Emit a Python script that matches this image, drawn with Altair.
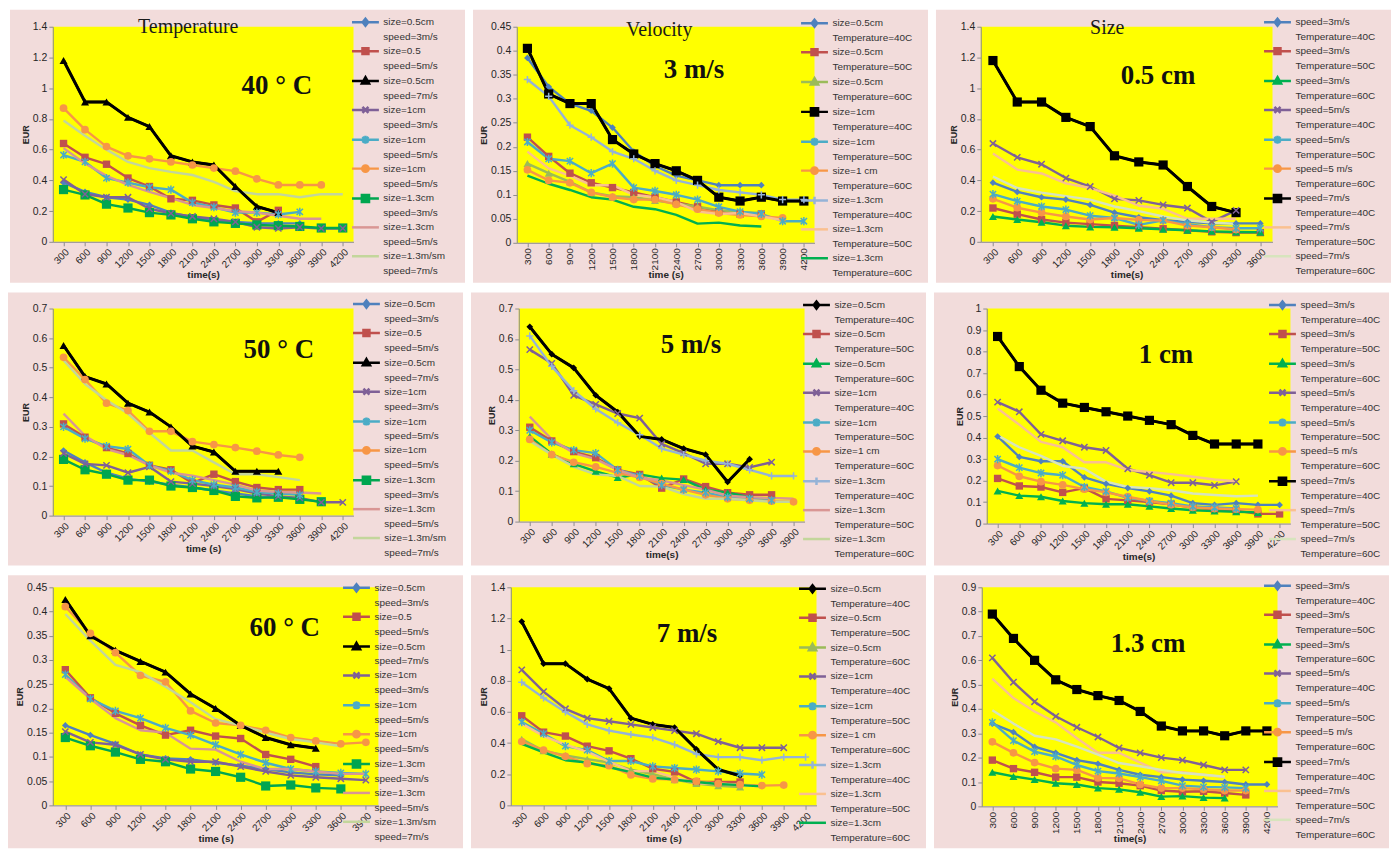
import altair as alt
import pandas as pd

TIMES = [300, 600, 900, 1200, 1500, 1800, 2100, 2400, 2700, 3000, 3300, 3600, 3900, 4200]

# EUR readings, named E_<size>_<speed m/s>_<temperature C>
E_05_3_40 = [0.385, 0.325, 0.29, 0.275, 0.24, 0.19, 0.16, 0.14, 0.13, 0.12, 0.12, 0.12]
E_05_3_50 = [0.22, 0.18, 0.145, 0.125, 0.115, 0.105, 0.095, 0.085, 0.075, 0.065, 0.06, 0.06]
E_05_3_60 = [0.165, 0.145, 0.127, 0.105, 0.097, 0.095, 0.088, 0.082, 0.075, 0.068, 0.064, 0.062]
E_1_3_40 = [0.405, 0.31, 0.29, 0.29, 0.215, 0.185, 0.165, 0.15, 0.13, 0.095, 0.087, 0.095, 0.087, 0.087]
E_1_3_50 = [0.21, 0.175, 0.17, 0.145, 0.165, 0.115, 0.108, 0.1, 0.09, 0.075, 0.065, 0.06, 0.045, 0.045]
E_1_3_60 = [0.152, 0.13, 0.125, 0.105, 0.095, 0.09, 0.09, 0.08, 0.07, 0.062, 0.058, 0.055, 0.052]
E_13_3_40 = [0.34, 0.305, 0.245, 0.22, 0.19, 0.175, 0.15, 0.13, 0.12, 0.11, 0.105, 0.1, 0.09, 0.09]
E_13_3_50 = [0.19, 0.155, 0.14, 0.12, 0.12, 0.1, 0.095, 0.085, 0.065, 0.06, 0.062, 0.055, 0.047]
E_13_3_60 = [0.14, 0.123, 0.11, 0.095, 0.09, 0.075, 0.07, 0.058, 0.04, 0.042, 0.036, 0.034]

E_05_5_40 = [0.64, 0.55, 0.505, 0.415, 0.36, 0.28, 0.27, 0.24, 0.22, 0.13, 0.205]
E_05_5_50 = [0.31, 0.265, 0.23, 0.21, 0.17, 0.155, 0.11, 0.14, 0.115, 0.095, 0.088, 0.088]
E_05_5_60 = [0.28, 0.222, 0.19, 0.165, 0.145, 0.155, 0.143, 0.138, 0.105, 0.095, 0.08]
E_1_5_40 = [0.565, 0.52, 0.415, 0.385, 0.355, 0.34, 0.255, 0.225, 0.19, 0.19, 0.178, 0.195]
E_1_5_50 = [0.30, 0.26, 0.235, 0.225, 0.17, 0.15, 0.12, 0.105, 0.095, 0.08, 0.075, 0.07]
E_1_5_60 = [0.27, 0.22, 0.195, 0.18, 0.16, 0.145, 0.125, 0.105, 0.088, 0.075, 0.07, 0.067, 0.065]
E_13_5_40 = [0.61, 0.51, 0.43, 0.37, 0.325, 0.285, 0.24, 0.22, 0.2, 0.19, 0.17, 0.15, 0.15]
E_13_5_50 = [0.345, 0.27, 0.225, 0.205, 0.17, 0.145, 0.135, 0.12, 0.105, 0.085, 0.08, 0.078, 0.075]
E_13_5_60 = [0.265, 0.22, 0.18, 0.155, 0.15, 0.117, 0.115, 0.09, 0.075, 0.075, 0.07, 0.065, 0.065]

E_05_7_40 = [1.18, 0.91, 0.91, 0.81, 0.75, 0.56, 0.52, 0.50, 0.36, 0.23, 0.19]
E_05_7_50 = [0.575, 0.47, 0.445, 0.38, 0.35, 0.30, 0.235, 0.215, 0.15, 0.15, 0.15]
E_05_7_60 = [0.425, 0.35, 0.32, 0.297, 0.275, 0.23, 0.20, 0.165, 0.14, 0.125, 0.118]
E_1_7_40 = [0.87, 0.73, 0.62, 0.56, 0.54, 0.52, 0.50, 0.48, 0.46, 0.41, 0.37, 0.37, 0.37]
E_1_7_50 = [0.535, 0.46, 0.38, 0.355, 0.285, 0.285, 0.25, 0.24, 0.23, 0.218, 0.205, 0.197]
E_1_7_60 = [0.41, 0.355, 0.315, 0.268, 0.255, 0.195, 0.17, 0.165, 0.155, 0.14, 0.133, 0.127, 0.13]
E_13_7_40 = [0.79, 0.69, 0.60, 0.52, 0.48, 0.455, 0.435, 0.39, 0.33, 0.31, 0.31, 0.29, 0.31, 0.31]
E_13_7_50 = [0.525, 0.445, 0.39, 0.345, 0.28, 0.22, 0.22, 0.18, 0.14, 0.14, 0.13, 0.12]
E_13_7_60 = [0.395, 0.34, 0.29, 0.275, 0.245, 0.213, 0.178, 0.165, 0.15, 0.137, 0.13, 0.122]

EUR = {
    ("0.5", 3, 40): E_05_3_40, ("0.5", 3, 50): E_05_3_50, ("0.5", 3, 60): E_05_3_60,
    ("1", 3, 40): E_1_3_40, ("1", 3, 50): E_1_3_50, ("1", 3, 60): E_1_3_60,
    ("1.3", 3, 40): E_13_3_40, ("1.3", 3, 50): E_13_3_50, ("1.3", 3, 60): E_13_3_60,
    ("0.5", 5, 40): E_05_5_40, ("0.5", 5, 50): E_05_5_50, ("0.5", 5, 60): E_05_5_60,
    ("1", 5, 40): E_1_5_40, ("1", 5, 50): E_1_5_50, ("1", 5, 60): E_1_5_60,
    ("1.3", 5, 40): E_13_5_40, ("1.3", 5, 50): E_13_5_50, ("1.3", 5, 60): E_13_5_60,
    ("0.5", 7, 40): E_05_7_40, ("0.5", 7, 50): E_05_7_50, ("0.5", 7, 60): E_05_7_60,
    ("1", 7, 40): E_1_7_40, ("1", 7, 50): E_1_7_50, ("1", 7, 60): E_1_7_60,
    ("1.3", 7, 40): E_13_7_40, ("1.3", 7, 50): E_13_7_50, ("1.3", 7, 60): E_13_7_60,
}
SIZES = ["0.5", "1", "1.3"]
SPEEDS = [3, 5, 7]
TEMPS = [40, 50, 60]

TEMP_LABELS = [("size=0.5cm", "speed=3m/s"), ("size=0.5", "speed=5m/s"), ("size=0.5cm", "speed=7m/s"),
               ("size=1cm", "speed=3m/s"), ("size=1cm", "speed=5m/s"), ("size=1cm", "speed=5m/s"),
               ("size=1.3cm", "speed=3m/s"), ("size=1.3cm", "speed=5m/s"), ("size=1.3m/sm", "speed=7m/s")]
VEL_LABELS = [("size=0.5cm", "Temperature=40C"), ("size=0.5cm", "Temperature=50C"), ("size=0.5cm", "Temperature=60C"),
              ("size=1cm", "Temperature=40C"), ("size=1cm", "Temperature=50C"), ("size=1 cm", "Temperature=60C"),
              ("size=1.3cm", "Temperature=40C"), ("size=1.3cm", "Temperature=50C"), ("size=1.3cm", "Temperature=60C")]
SIZE_LABELS = [("speed=3m/s", "Temperature=40C"), ("speed=3m/s", "Temperature=50C"), ("speed=3m/s", "Temperature=60C"),
               ("speed=5m/s", "Temperature=40C"), ("speed=5m/s", "Temperature=50C"), ("speed=5 m/s", "Temperature=60C"),
               ("speed=7m/s", "Temperature=40C"), ("speed=7m/s", "Temperature=50C"), ("speed=7m/s", "Temperature=60C")]

BLUE, RED, OLIVE, PURPLE, AQUA = "#4F81BD", "#C0504D", "#9BBB59", "#7F6097", "#4BACC6"
ORANGE, BLACK, GREEN, BGREEN = "#F79646", "#000000", "#00A650", "#00B050"
ROSE, LIME, SKY, TAN, PALE = "#D99694", "#C3D69B", "#95B3D7", "#FAC090", "#D7E4BD"

TEMP_COLORS = [BLUE, RED, BLACK, PURPLE, AQUA, ORANGE, GREEN, ROSE, LIME]
TEMP_MARKS = ["diamond", "square", "triangle", "x", "star", "circle", "bigsquare", None, None]
SIZE_COLORS = [BLUE, RED, BGREEN, PURPLE, AQUA, ORANGE, BLACK, TAN, PALE]
SIZE_MARKS = ["diamond", "square", "triangle", "x", "star", "circle", "bigsquare", None, None]
VEL_MARKS = ["diamond", "square", "triangle", "x", "star", "circle", "plus", None, None]


def tkeys(T):
    return [(s, v, T) for s in SIZES for v in SPEEDS]


def vkeys(V):
    return [(s, V, T) for s in SIZES for T in TEMPS]


def skeys(S):
    return [(S, v, T) for v in SPEEDS for T in TEMPS]


ROW_TOP = [17, 16, 12]   # pink top -> plot top, per row

PANELS = [
    dict(keys=tkeys(40), labels=TEMP_LABELS, colors=TEMP_COLORS, marks=TEMP_MARKS, ymax=1.4, ystep=0.2,
         xangle=-45, xtitle="time(s)", head="Temperature", head_xy=(136, 17), big="40 ° C", big_xy=(225, 77),
         left=43, W=302, H=216, ldx=-3, ly=11),
    dict(keys=vkeys(3), labels=VEL_LABELS, colors=[BLUE, RED, OLIVE, BLACK, AQUA, ORANGE, SKY, TAN, BGREEN],
         marks=["diamond", "square", "triangle", "bigsquare", "star", "circle", "plus", None, None],
         ymax=0.45, ystep=0.05, xangle=-90, xtitle="time (s)", head="Velocity", head_xy=(143, 20),
         big="3 m/s", big_xy=(178, 60), left=44, W=299, H=217, ldx=-15, ly=12),
    dict(keys=skeys("0.5"), labels=SIZE_LABELS, colors=SIZE_COLORS, marks=SIZE_MARKS, ymax=1.4, ystep=0.2,
         xangle=-45, xtitle="time(s)", head="Size", head_xy=(127, 18), big="0.5 cm", big_xy=(178, 67),
         left=45, W=293, H=216, ldx=-10, ly=11),
    dict(keys=tkeys(50), labels=TEMP_LABELS, colors=TEMP_COLORS, marks=TEMP_MARKS, ymax=0.7, ystep=0.1,
         xangle=-45, xtitle="time (s)", head=None, big="50 ° C", big_xy=(227, 58),
         left=45, W=302, H=208, ldx=-2, ly=10),
    dict(keys=vkeys(5), labels=VEL_LABELS, colors=[BLACK, RED, BGREEN, PURPLE, AQUA, ORANGE, SKY, ROSE, LIME],
         marks=VEL_MARKS, ymax=0.7, ystep=0.1, xangle=-45, xtitle="time(s)", head=None,
         big="5 m/s", big_xy=(173, 53), left=48, W=287, H=214, ldx=-3, ly=11),
    dict(keys=skeys("1"), labels=SIZE_LABELS, colors=SIZE_COLORS, marks=SIZE_MARKS, ymax=1.0, ystep=0.1,
         xangle=-45, xtitle="time(s)", head=None, big="1 cm", big_xy=(180, 63),
         left=53, W=305, H=216, ldx=-23, ly=11),
    dict(keys=tkeys(60), labels=TEMP_LABELS, colors=TEMP_COLORS, marks=TEMP_MARKS, ymax=0.45, ystep=0.05,
         xangle=-45, xtitle="time (s)", head=None, big="60 ° C", big_xy=(233, 53),
         left=45, W=327, H=219, ldx=-37, ly=11),
    dict(keys=vkeys(7), labels=VEL_LABELS, colors=[BLACK, RED, OLIVE, PURPLE, AQUA, ORANGE, SKY, TAN, BGREEN],
         marks=VEL_MARKS, ymax=1.4, ystep=0.2, xangle=-45, xtitle="time (s)", head=None,
         big="7 m/s", big_xy=(177, 59), left=40, W=307, H=219, ldx=-19, ly=12),
    dict(keys=skeys("1.3"), labels=SIZE_LABELS, colors=SIZE_COLORS, marks=SIZE_MARKS, ymax=0.9, ystep=0.1,
         xangle=-90, xtitle="time(s)", head=None, big="1.3 cm", big_xy=(167, 69),
         left=48, W=297, H=220, ldx=-15, ly=9),
]

PANEL_W, PANEL_H = 457, 274
PINK, YELLOW = "#F2DCDB", "#FFFF00"
SANS = "Liberation Sans"
SERIF = "Liberation Serif"

MARK_STYLE = {
    "diamond": dict(shape="diamond", size=45, filled=True),
    "square": dict(shape="square", size=55, filled=True),
    "bigsquare": dict(shape="square", size=85, filled=True),
    "triangle": dict(shape="triangle-up", size=65, filled=True),
    "circle": dict(shape="circle", size=60, filled=True),
    "x": dict(shape="M-1,-1L1,1M-1,1L1,-1", size=40, filled=False, strokeWidth=1.5),
    "star": dict(shape="M-1,-1L1,1M-1,1L1,-1M0,-1.3L0,1.3", size=40, filled=False, strokeWidth=1.5),
    "plus": dict(shape="M-1,0L1,0M0,-1L0,1", size=52, filled=False, strokeWidth=1.5),
}

SYM_SIZE = 196                      # legend symbol box 14 px
SYM_K = (SYM_SIZE ** 0.5) / 2.0     # px per path unit
LINE_HALF = 13.5                    # legend line half-length, px


def u(px):
    return f"{px / SYM_K:.3f}"


def legend_path(marker):
    p = f"M{u(-LINE_HALF)},0L{u(LINE_HALF)},0"
    if marker in ("square", "bigsquare"):
        s = 3.0 if marker == "square" else 3.6
        p += f"M{u(-s)},{u(-s)}L{u(s)},{u(-s)}L{u(s)},{u(s)}L{u(-s)},{u(s)}Z"
    elif marker == "diamond":
        p += f"M0,{u(-3.6)}L{u(2.8)},0L0,{u(3.6)}L{u(-2.8)},0Z"
    elif marker == "triangle":
        p += f"M0,{u(-3.8)}L{u(3.6)},{u(2.6)}L{u(-3.6)},{u(2.6)}Z"
    elif marker == "circle":
        r = u(3.2)
        p += f"M-{r},0A{r},{r},0,1,0,{r},0A{r},{r},0,1,0,-{r},0Z"
    elif marker == "x":
        p += f"M{u(-3)},{u(-3)}L{u(3)},{u(3)}M{u(-3)},{u(3)}L{u(3)},{u(-3)}"
    elif marker == "star":
        p += f"M{u(-3)},{u(-3)}L{u(3)},{u(3)}M{u(-3)},{u(3)}L{u(3)},{u(-3)}M0,{u(-4)}L0,{u(4)}"
    elif marker == "plus":
        p += f"M{u(-3.8)},0L{u(3.8)},0M0,{u(-3.8)}L0,{u(3.8)}"
    return p


def build_panel(p, top):
    ids = [f"{i + 1}|{a}|{b}" for i, (a, b) in enumerate(p["labels"])]
    rows = []
    for sid, key in zip(ids, p["keys"]):
        for t, v in zip(TIMES, EUR[key]):
            rows.append({"time": t, "EUR": v, "series": sid})
    df = pd.DataFrame(rows)
    ntimes = max(len(EUR[k]) for k in p["keys"])
    xdom = TIMES[:ntimes]
    W, H, left = p["W"], p["H"], p["left"]
    right = PANEL_W - left - W
    bottom = PANEL_H - top - H
    nstep = int(round(p["ymax"] / p["ystep"]))
    yvals = [round(i * p["ystep"], 2) for i in range(nstep + 1)]

    x = alt.X("time:O", scale=alt.Scale(domain=xdom),
              axis=alt.Axis(title=p["xtitle"], labelAngle=p["xangle"], zindex=1))
    y = alt.Y("EUR:Q", scale=alt.Scale(domain=[0, p["ymax"]], nice=False),
              axis=alt.Axis(title="EUR", values=yvals, format="~g", zindex=1))
    cscale = alt.Scale(domain=ids, range=p["colors"])
    shscale = alt.Scale(domain=ids, range=[legend_path(m) for m in p["marks"]])

    leg = alt.Legend(orient="none", legendX=W + p["ldx"] + (LINE_HALF - SYM_K),
                     legendY=p["ly"] - SYM_K - top, title=None,
                     labelExpr="slice(split(datum.value, '|'), 1)", labelFont=SANS, labelFontSize=10,
                     labelColor="#333333", labelLimit=220, labelOffset=LINE_HALF - SYM_K + 3,
                     rowPadding=0, padding=0, symbolSize=SYM_SIZE, symbolStrokeWidth=2.5, zindex=2)

    one = pd.DataFrame({"k": [0]})
    layers = [
        alt.Chart(one).mark_rect(color=PINK).encode(
            x=alt.value(-left), x2=alt.value(W + right), y=alt.value(-top), y2=alt.value(H + bottom)),
        alt.Chart(one).mark_rect(color=YELLOW).encode(
            x=alt.value(0), x2=alt.value(W), y=alt.value(0), y2=alt.value(H)),
        # legend carrier: draws nothing, supplies the line+marker legend symbols
        alt.Chart(df).transform_filter("false")
        .mark_point(filled=True, opacity=1, strokeWidth=2.5)
        .encode(x=x, y=y,
                color=alt.Color("series:N", scale=cscale, legend=leg),
                stroke=alt.Stroke("series:N", scale=cscale, legend=leg),
                shape=alt.Shape("series:N", scale=shscale, legend=leg)),
        alt.Chart(df).mark_line(strokeWidth=2.4, strokeJoin="round").encode(
            x=x, y=y, color=alt.Color("series:N", scale=cscale)),
    ]
    thick = [sid for sid, c in zip(ids, p["colors"]) if c == BLACK]
    if thick:
        layers.append(
            alt.Chart(df).transform_filter(alt.FieldOneOfPredicate(field="series", oneOf=thick))
            .mark_line(strokeWidth=3.0, strokeJoin="round")
            .encode(x=x, y=y, color=alt.Color("series:N", scale=cscale)))
    for mk, st in MARK_STYLE.items():
        sel = [sid for sid, m in zip(ids, p["marks"]) if m == mk]
        if not sel:
            continue
        layers.append(
            alt.Chart(df).transform_filter(alt.FieldOneOfPredicate(field="series", oneOf=sel))
            .mark_point(opacity=1, **st)
            .encode(x=x, y=y, color=alt.Color("series:N", scale=cscale)))
    if p["head"]:
        hx, hy = p["head_xy"]
        layers.append(
            alt.Chart(pd.DataFrame({"t": [p["head"]]})).mark_text(
                font=SERIF, fontSize=20, color="#1a1a1a", align="center", baseline="middle")
            .encode(text="t:N", x=alt.value(hx), y=alt.value(hy - top)))
    bx, by = p["big_xy"]
    layers.append(
        alt.Chart(pd.DataFrame({"t": [p["big"]]})).mark_text(
            font=SERIF, fontSize=27, fontWeight="bold", color="#111111", align="center", baseline="middle")
        .encode(text="t:N", x=alt.value(bx), y=alt.value(by - top)))
    return alt.layer(*layers).properties(width=W, height=H)


panels = [build_panel(p, ROW_TOP[i // 3]) for i, p in enumerate(PANELS)]
rows = []
for r in range(3):
    rows.append(alt.hconcat(*panels[3 * r:3 * r + 3], spacing=8)
                .resolve_scale(color="independent", stroke="independent", shape="independent")
                .resolve_legend(color="independent", stroke="independent", shape="independent"))

chart = (alt.vconcat(*rows, spacing=10)
         .resolve_scale(color="independent", stroke="independent", shape="independent")
         .resolve_legend(color="independent", stroke="independent", shape="independent")
         .properties(padding=0, background="white")
         .configure(style={"guide-label": {"lineHeight": 15}})
         .configure_view(stroke=None)
         .configure_axis(grid=False, domainColor="#8C8C8C", tickColor="#8C8C8C", tickSize=4,
                         labelFont=SANS, labelFontSize=10, labelColor="#262626",
                         titleFont=SANS, titleFontWeight="bold", titleColor="#262626")
         .configure_axisY(titleFontSize=9, titlePadding=2, labelPadding=2, labelFontSize=10.5)
         .configure_axisX(titleFontSize=10, titlePadding=0, labelPadding=1))

chart.save("out.html", embed_options={"renderer": "svg", "actions": False})
